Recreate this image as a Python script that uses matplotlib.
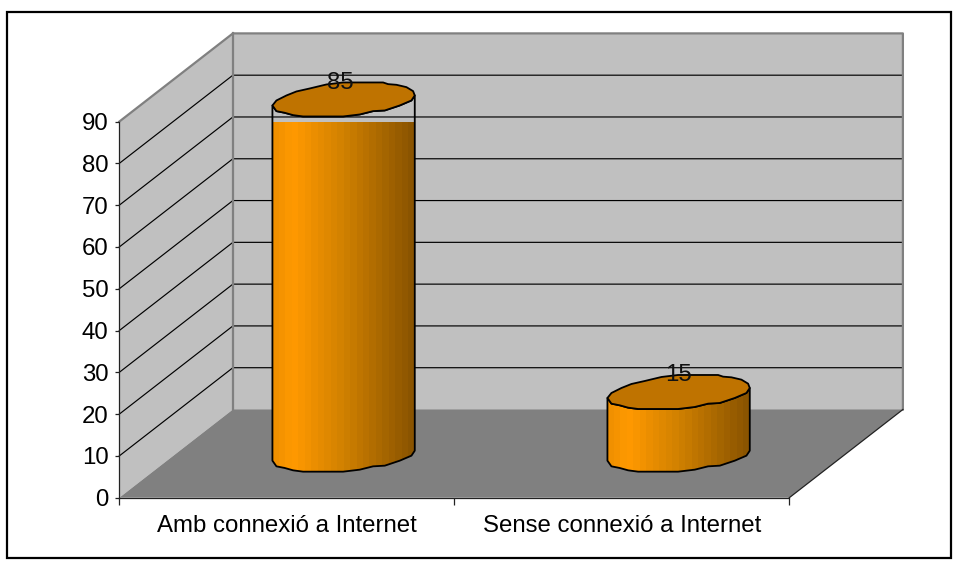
import numpy as np
import matplotlib
matplotlib.use("Agg")
import matplotlib.pyplot as plt
from matplotlib.patches import Polygon, Rectangle
from matplotlib.colors import LinearSegmentedColormap

categories = ["Amb connexió a Internet", "Sense connexió a Internet"]
values = [85, 15]
y_ticks = [0, 10, 20, 30, 40, 50, 60, 70, 80, 90]

W, H = 957, 564
plt.rcParams["font.family"] = ["Liberation Sans", "DejaVu Sans"]
fig = plt.figure(figsize=(W / 100, H / 100), dpi=100, facecolor="white")

# front plane of the 3D box, in pixels
L, R, B, T = 119.3, 789.3, 497.7, 121.6
ax = fig.add_axes([L / W, 1 - B / H, (R - L) / W, (B - T) / H])
ax.set_xlim(0, 2)
ax.set_ylim(0, 90)
ax.patch.set_visible(False)

px_x = (R - L) / 2
px_y = (B - T) / 90
depth_x = 113.6 / px_x
depth_y = 88.2 / px_y

WALL, FLOOR, EDGE = "#C0C0C0", "#808080", "#808080"

# walls and floor
ax.add_patch(Polygon([(0, 0), (depth_x, depth_y), (depth_x, 90 + depth_y), (0, 90)],
                     fc=WALL, ec="none", clip_on=False, zorder=1))
ax.add_patch(Polygon([(depth_x, depth_y), (2 + depth_x, depth_y),
                      (2 + depth_x, 90 + depth_y), (depth_x, 90 + depth_y)],
                     fc=WALL, ec="none", clip_on=False, zorder=1))
ax.add_patch(Polygon([(0, 0), (2, 0), (2 + depth_x, depth_y), (depth_x, depth_y)],
                     fc=FLOOR, ec="none", clip_on=False, zorder=1.1))

# gridlines
for v in y_ticks[1:-1]:
    ax.plot([0, depth_x, 2 + depth_x], [v, v + depth_y, v + depth_y],
            color="black", lw=0.85, clip_on=False, zorder=1.2)

# wall edges
ax.plot([0, depth_x, 2 + depth_x, 2 + depth_x], [90, 90 + depth_y, 90 + depth_y, depth_y],
        color=EDGE, lw=1.6, clip_on=False, zorder=1.3)
ax.plot([depth_x, depth_x], [depth_y, 90 + depth_y], color=EDGE, lw=1.6,
        clip_on=False, zorder=1.3)
ax.plot([2, 2 + depth_x], [0, depth_y], color="#222222", lw=0.9, clip_on=False, zorder=1.3)

# irregular outline of the cylinder's ellipse, as offsets in pixels from its centre
outline = np.array([
    (518, 255), (530, 240), (560, 225), (590, 213), (630, 204), (680, 192), (730, 186),
    (850, 186), (865, 191), (890, 193), (920, 200), (940, 212), (945, 225), (935, 240),
    (900, 255), (855, 270), (820, 272), (780, 282), (730, 288), (610, 288), (580, 284),
    (555, 277), (530, 272)], dtype=float)
outline = (outline - np.array([731.5, 238.0])) / 3.0
ox = outline[:, 0] / px_x
oy = -outline[:, 1] / px_y
right_i = int(np.argmax(ox))
lower_x = np.r_[ox[0], ox[:right_i - 1:-1][::-1][::-1]]  # placeholder reshaped below
lower = np.vstack([outline[right_i:], outline[:1]])  # right -> left along the front
low_x = lower[:, 0] / px_x
low_y = -lower[:, 1] / px_y

shade = LinearSegmentedColormap.from_list(
    "cyl", [(0, "#F09000"), (0.13, "#FF9900"), (0.5, "#D08000"), (1, "#8A5400")])
n_bands = 22
base_frac = 42.7 / 88.2

for i, val in enumerate(values):
    xc = i + 0.5 + depth_x / 2
    yb = depth_y * base_frac
    yt = yb + val
    # front face
    face = np.vstack([
        np.c_[xc + low_x[::-1], yb + low_y[::-1]],
        np.c_[xc + low_x, yt + low_y],
    ])
    xedges = xc + np.linspace(ox.min(), ox.max(), n_bands + 1)
    mesh = ax.pcolormesh(xedges, [yb - 6, yt + 6],
                         np.linspace(0, 1, n_bands).reshape(1, -1),
                         cmap=shade, vmin=0, vmax=1, zorder=3, clip_on=True)
    edge = Polygon(face, fc="none", ec="black", lw=1.3, clip_on=False, zorder=3.2,
                   joinstyle="round")
    ax.add_patch(edge)
    mesh.set_clip_path(edge)
    # top ellipse
    ax.add_patch(Polygon(np.c_[xc + ox, yt + oy], closed=True, fc="#BF7300", ec="black",
                         lw=1.3, clip_on=False, zorder=3.4, joinstyle="round"))
    # data label
    ax.text(xc - 3 / px_x * (1 if i == 0 else 0), yt + 17 / px_y, str(val), ha="center",
            va="center", fontsize=17.3, color="#111111", zorder=4, clip_on=False)

# axes
ax.set_yticks(y_ticks)
ax.set_xticks([0, 1, 2])
ax.set_xticklabels([])
ax.set_xticks([0.5, 1.5], labels=categories, minor=True)
ax.tick_params(axis="y", length=3.2, width=0.9, pad=4.5, labelsize=17.3, color="#222222")
ax.tick_params(axis="x", which="major", length=5, width=0.9, color="#222222")
ax.tick_params(axis="x", which="minor", length=0, pad=12.5, labelsize=17.3)
ax.spines["top"].set_visible(False)
ax.spines["right"].set_visible(False)
for s in ("left", "bottom"):
    ax.spines[s].set_linewidth(0.9)
    ax.spines[s].set_color("#222222")
    ax.spines[s].set_zorder(2)

# chart-area frame
fig.add_artist(Rectangle((6.8 / W, 1 - 558 / H), (951 - 6.8) / W, (558 - 12) / H,
                         transform=fig.transFigure, fc="none", ec="black", lw=1.6))

fig.savefig("out.png", dpi=100, facecolor="white")
